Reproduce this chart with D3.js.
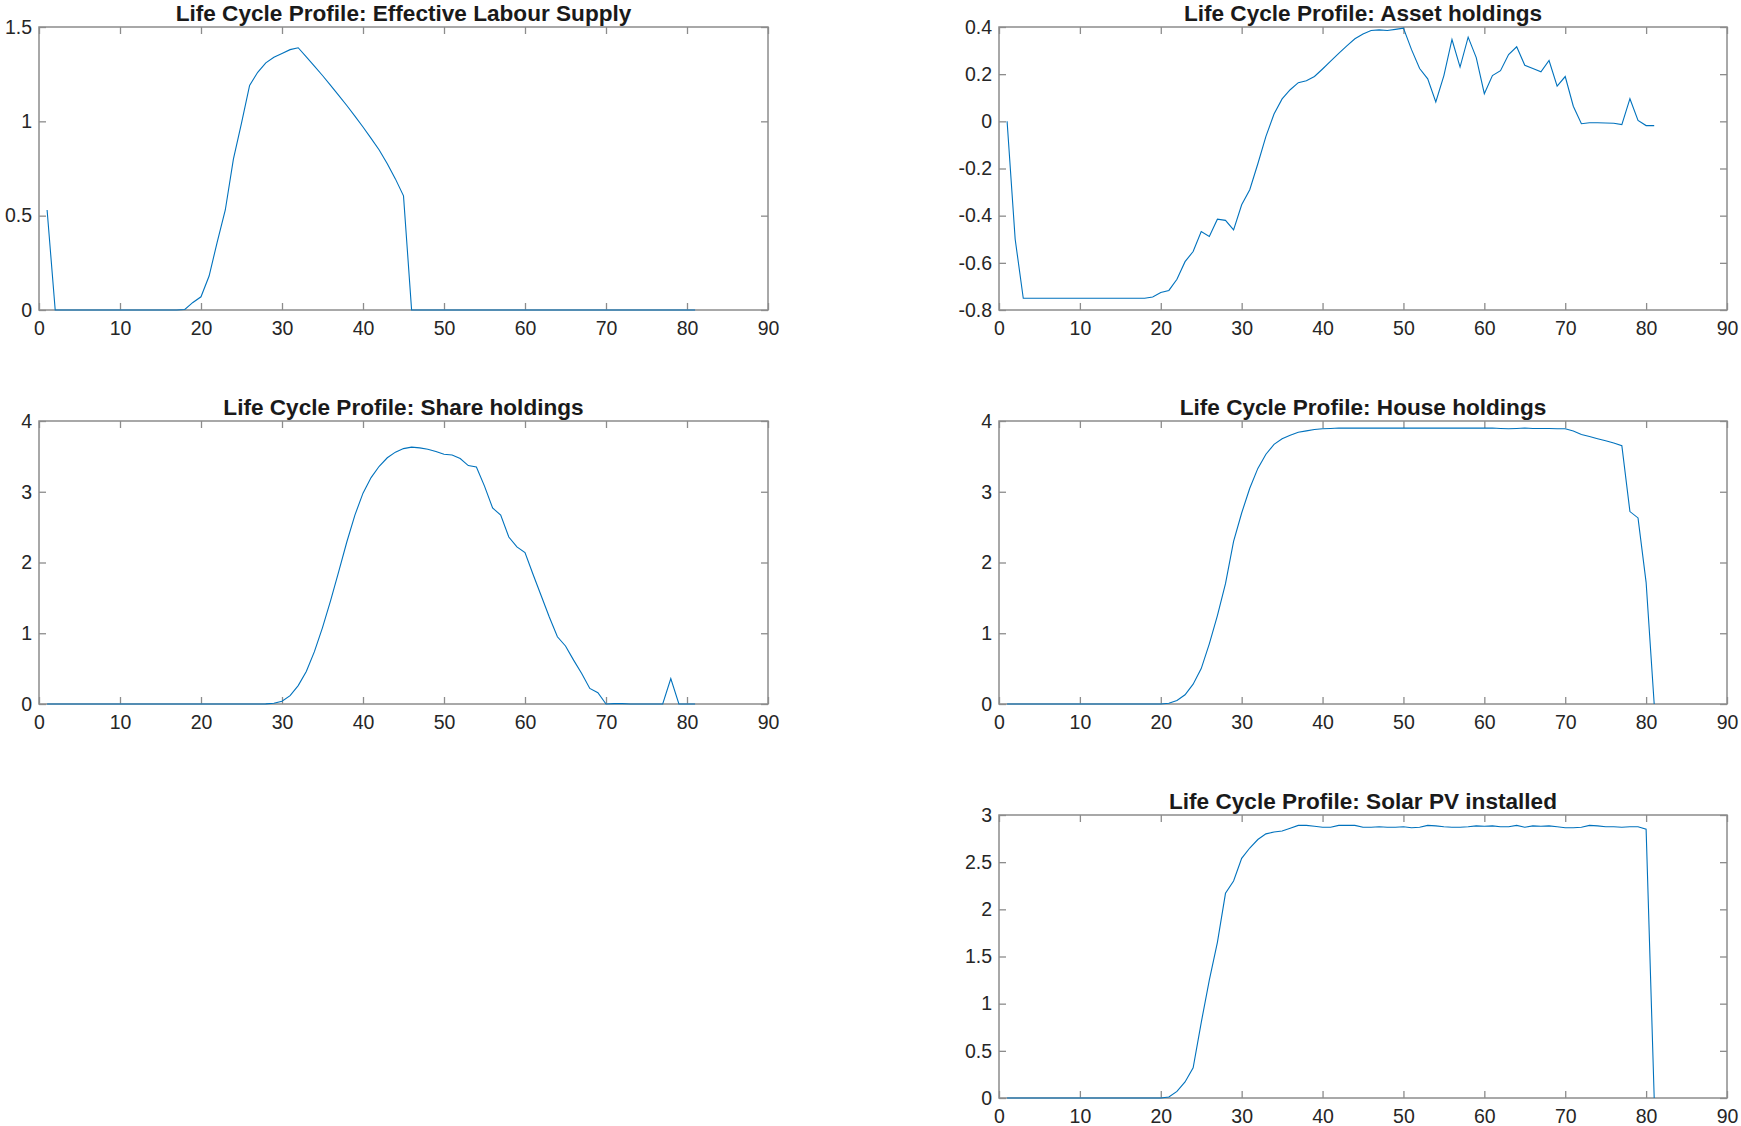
<!DOCTYPE html>
<html>
<head>
<meta charset="utf-8">
<script src="https://cdn.jsdelivr.net/npm/d3@7"></script>
<style>
  html, body { margin: 0; padding: 0; background: #fff; }
  svg { display: block; }
  .tick text { font-family: "Liberation Sans", Arial, Helvetica, sans-serif; font-size: 19.5px; fill: #262626; }
  .panel-title { font-family: "Liberation Sans", Arial, Helvetica, sans-serif; font-size: 22.6px; font-weight: bold; fill: #1a1a1a; }
</style>
</head>
<body>
<div class="container"></div>
<script>
const WIDTH = 1741;
const HEIGHT = 1126;

// ages 1..81
const ages = [
  1, 2, 3, 4, 5, 6, 7, 8, 9, 10, 11, 12, 13, 14, 15, 16, 17, 18, 19, 20,
  21, 22, 23, 24, 25, 26, 27, 28, 29, 30, 31, 32, 33, 34, 35, 36, 37, 38, 39, 40,
  41, 42, 43, 44, 45, 46, 47, 48, 49, 50, 51, 52, 53, 54, 55, 56, 57, 58, 59, 60,
  61, 62, 63, 64, 65, 66, 67, 68, 69, 70, 71, 72, 73, 74, 75, 76, 77, 78, 79, 80, 81
];

const labourSupply = [
  0.53, 0, 0, 0, 0, 0, 0, 0, 0, 0, 0, 0, 0, 0, 0, 0, 0, 0.003, 0.04, 0.07,
  0.18, 0.36, 0.53, 0.80, 0.99, 1.19, 1.26, 1.31, 1.34, 1.36, 1.38, 1.39, 1.342, 1.293, 1.243, 1.191, 1.138, 1.084, 1.028, 0.97,
  0.91, 0.848, 0.775, 0.695, 0.605, 0, 0, 0, 0, 0, 0, 0, 0, 0, 0, 0, 0, 0, 0, 0,
  0, 0, 0, 0, 0, 0, 0, 0, 0, 0, 0, 0, 0, 0, 0, 0, 0, 0, 0, 0, 0
];

const assetHoldings = [
  0, -0.50, -0.75, -0.75, -0.75, -0.75, -0.75, -0.75, -0.75, -0.75, -0.75, -0.75, -0.75, -0.75, -0.75, -0.75, -0.75, -0.75, -0.745, -0.726,
  -0.717, -0.67, -0.595, -0.552, -0.467, -0.488, -0.415, -0.42, -0.46, -0.354, -0.29, -0.18, -0.064, 0.031, 0.095, 0.134, 0.164, 0.172, 0.19, 0.222,
  0.255, 0.288, 0.32, 0.35, 0.37, 0.385, 0.388, 0.385, 0.39, 0.395, 0.304, 0.224, 0.18, 0.082, 0.194, 0.347, 0.23, 0.357, 0.27, 0.117,
  0.194, 0.215, 0.283, 0.316, 0.238, 0.224, 0.21, 0.258, 0.149, 0.19, 0.064, -0.01, -0.006, -0.006, -0.007, -0.008, -0.014, 0.096, 0.004, -0.018, -0.018
];

const shareHoldings = [
  0, 0, 0, 0, 0, 0, 0, 0, 0, 0, 0, 0, 0, 0, 0, 0, 0, 0, 0, 0,
  0, 0, 0, 0, 0, 0, 0, 0.002, 0.01, 0.038, 0.118, 0.26, 0.46, 0.74, 1.08, 1.46, 1.87, 2.29, 2.67, 2.98,
  3.2, 3.36, 3.48, 3.56, 3.61, 3.63, 3.62, 3.60, 3.57, 3.53, 3.52, 3.47, 3.37, 3.35, 3.08, 2.77, 2.67, 2.36, 2.22, 2.14,
  1.83, 1.53, 1.23, 0.95, 0.82, 0.62, 0.43, 0.22, 0.16, 0, 0.005, 0.005, 0, 0, 0, 0, 0, 0.36, 0, 0, 0
];

const houseHoldings = [
  0, 0, 0, 0, 0, 0, 0, 0, 0, 0, 0, 0, 0, 0, 0, 0, 0, 0, 0, 0,
  0.01, 0.05, 0.13, 0.28, 0.5, 0.85, 1.25, 1.7, 2.3, 2.7, 3.05, 3.33, 3.53, 3.67, 3.75, 3.80, 3.84, 3.86, 3.88, 3.89,
  3.895, 3.9, 3.9, 3.9, 3.9, 3.9, 3.9, 3.9, 3.9, 3.9, 3.9, 3.9, 3.9, 3.9, 3.9, 3.9, 3.9, 3.9, 3.9, 3.9,
  3.9, 3.895, 3.89, 3.895, 3.9, 3.895, 3.895, 3.895, 3.89, 3.89, 3.86, 3.81, 3.78, 3.75, 3.72, 3.69, 3.65, 2.72, 2.63, 1.72, 0
];

const solarPV = [
  0, 0, 0, 0, 0, 0, 0, 0, 0, 0, 0, 0, 0, 0, 0, 0, 0, 0, 0, 0,
  0.01, 0.07, 0.17, 0.32, 0.8, 1.25, 1.65, 2.17, 2.3, 2.54, 2.65, 2.74, 2.8, 2.82, 2.83, 2.86, 2.89, 2.89, 2.88, 2.87,
  2.87, 2.89, 2.89, 2.89, 2.87, 2.87, 2.875, 2.87, 2.87, 2.875, 2.865, 2.87, 2.89, 2.885, 2.875, 2.87, 2.87, 2.875, 2.885, 2.88,
  2.885, 2.875, 2.875, 2.89, 2.87, 2.885, 2.88, 2.885, 2.875, 2.865, 2.865, 2.87, 2.89, 2.885, 2.875, 2.875, 2.87, 2.875, 2.875, 2.85, 0
];

const titles = [
  "Life Cycle Profile: Effective Labour Supply",
  "Life Cycle Profile: Asset holdings",
  "Life Cycle Profile: Share holdings",
  "Life Cycle Profile: House holdings",
  "Life Cycle Profile: Solar PV installed"
];

const xTicks = [0, 10, 20, 30, 40, 50, 60, 70, 80, 90];
const labourTicks = [0, 0.5, 1, 1.5];
const assetTicks = [-0.8, -0.6, -0.4, -0.2, 0, 0.2, 0.4];
const shareTicks = [0, 1, 2, 3, 4];
const houseTicks = [0, 1, 2, 3, 4];
const solarTicks = [0, 0.5, 1, 1.5, 2, 2.5, 3];

// subplot grid positions (col, row)
const panels = [
  { title: titles[0], values: labourSupply, yTicks: labourTicks, col: 0, row: 0 },
  { title: titles[1], values: assetHoldings, yTicks: assetTicks, col: 1, row: 0 },
  { title: titles[2], values: shareHoldings, yTicks: shareTicks, col: 0, row: 1 },
  { title: titles[3], values: houseHoldings, yTicks: houseTicks, col: 1, row: 1 },
  { title: titles[4], values: solarPV, yTicks: solarTicks, col: 1, row: 2 }
];

const COL_X = [39, 999];
const COL_W = [729, 728];
const ROW_Y = 27;
const ROW_STEP = 394;
const AX_H = 283;
const TICK_LEN = 7;
const AXIS_COLOR = "#8c8c8c";
const LINE_COLOR = "#0072BD";

const svg = d3.select(".container")
  .append("svg")
  .attr("width", WIDTH)
  .attr("height", HEIGHT);

const fmt = (d) => String(d);

panels.forEach((p) => {
  const left = COL_X[p.col];
  const w = COL_W[p.col];
  const top = ROW_Y + p.row * ROW_STEP;
  const h = AX_H;

  const x = d3.scaleLinear().domain([0, 90]).range([0, w]);
  const y = d3.scaleLinear()
    .domain([p.yTicks[0], p.yTicks[p.yTicks.length - 1]])
    .range([h, 0]);

  const g = svg.append("g").attr("transform", `translate(${left},${top})`);

  // Axes (ticks point inward, mirrored on all four sides)
  const bottom = g.append("g")
    .attr("transform", `translate(0,${h})`)
    .call(d3.axisBottom(x).tickValues(xTicks).tickFormat(fmt)
      .tickSizeInner(-TICK_LEN).tickSizeOuter(0).tickPadding(11));
  const topAx = g.append("g")
    .call(d3.axisTop(x).tickValues(xTicks).tickFormat("")
      .tickSizeInner(-TICK_LEN).tickSizeOuter(0));
  const leftAx = g.append("g")
    .call(d3.axisLeft(y).tickValues(p.yTicks).tickFormat(fmt)
      .tickSizeInner(-TICK_LEN).tickSizeOuter(0).tickPadding(7));
  const rightAx = g.append("g")
    .attr("transform", `translate(${w},0)`)
    .call(d3.axisRight(y).tickValues(p.yTicks).tickFormat("")
      .tickSizeInner(-TICK_LEN).tickSizeOuter(0));

  [bottom, topAx, leftAx, rightAx].forEach((a) => {
    a.select(".domain").remove();
    a.selectAll(".tick line").attr("stroke", AXIS_COLOR).attr("stroke-width", 1.3);
    a.attr("font-family", null).attr("font-size", null);
  });

  // Box
  g.append("rect")
    .attr("x", 0)
    .attr("y", 0)
    .attr("width", w)
    .attr("height", h)
    .attr("fill", "none")
    .attr("stroke", AXIS_COLOR)
    .attr("stroke-width", 1.5);

  // Data line
  const line = d3.line()
    .x((d, i) => x(ages[i]))
    .y((d) => y(d));

  g.append("path")
    .datum(p.values)
    .attr("fill", "none")
    .attr("stroke", LINE_COLOR)
    .attr("stroke-width", 1.1)
    .attr("d", line);

  // Title
  g.append("text")
    .attr("class", "panel-title")
    .attr("x", w / 2)
    .attr("y", -6.5)
    .attr("text-anchor", "middle")
    .text(p.title);
});
</script>
</body>
</html>
